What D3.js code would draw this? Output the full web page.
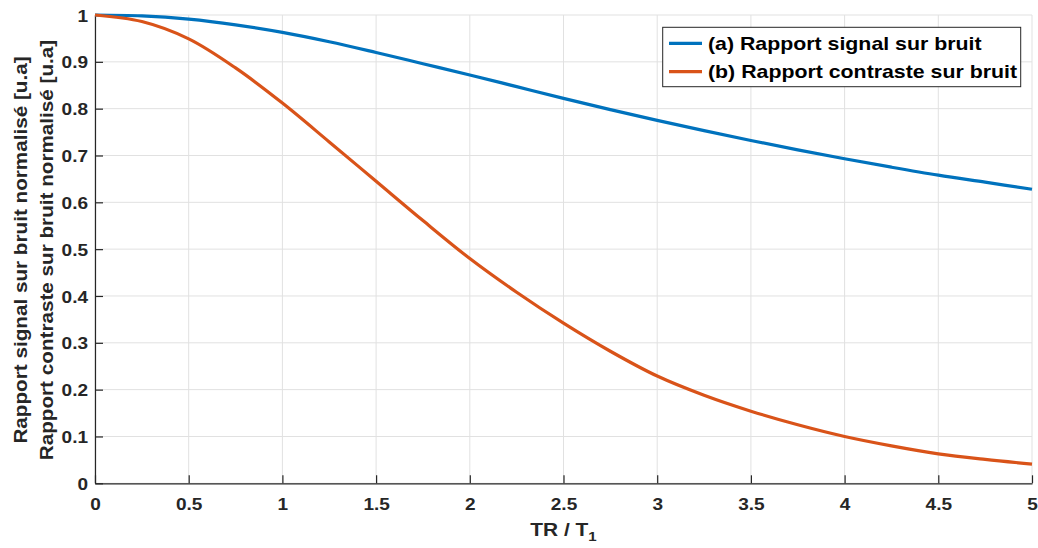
<!DOCTYPE html>
<html><head><meta charset="utf-8">
<script src="https://cdn.jsdelivr.net/npm/d3@7"></script>
<style>
html,body{margin:0;padding:0;background:#fff;}
text{font-family:"Liberation Sans",Arial,Helvetica,sans-serif;font-weight:bold;}
</style></head>
<body><svg id="c" width="1038" height="548"></svg>
<script>
const xValues = [0,0.25,0.5,0.75,1,1.25,1.5,1.75,2,2.25,2.5,2.75,3,3.25,3.5,3.75,4,4.25,4.5,4.75,5];
const snrValues = [1,0.998,0.991,0.979,0.963,0.943,0.920,0.896,0.872,0.847,0.822,0.798,0.775,0.753,0.732,0.712,0.693,0.675,0.658,0.643,0.628];
const cnrValues = [1,0.986,0.949,0.887,0.812,0.729,0.645,0.561,0.480,0.408,0.342,0.282,0.229,0.188,0.154,0.125,0.100,0.080,0.063,0.051,0.041];
const xTicks = [0,0.5,1,1.5,2,2.5,3,3.5,4,4.5,5];
const yTicks = [0,0.1,0.2,0.3,0.4,0.5,0.6,0.7,0.8,0.9,1];
const seriesNames = ["(a) Rapport signal sur bruit","(b) Rapport contraste sur bruit"];
const seriesColors = ["#0072BD","#D95319"];
const yTitleLines = ["Rapport signal sur bruit normalisé [u.a]","Rapport contraste sur bruit normalisé [u.a]"];

const svg = d3.select("#c");
const L=95, R=1032, T=15, B=483.3;
const x = d3.scaleLinear().domain([0,5]).range([L,R]);
const y = d3.scaleLinear().domain([0,1]).range([B,T]);
const axisCol="#262626";
const SX = 1.12; // horizontal glyph stretch of the reference

// grid
const g = svg.append("g");
g.selectAll("line.gx").data(xTicks).enter().append("line")
 .attr("x1",d=>x(d)).attr("x2",d=>x(d)).attr("y1",T).attr("y2",B)
 .attr("stroke","#e1e1e1").attr("stroke-width",1);
g.selectAll("line.gy").data(yTicks).enter().append("line")
 .attr("x1",L).attr("x2",R).attr("y1",d=>y(d)).attr("y2",d=>y(d))
 .attr("stroke","#e1e1e1").attr("stroke-width",1);

// axes
const xAxis = d3.axisBottom(x).tickValues(xTicks).tickSizeInner(-8).tickSizeOuter(0)
  .tickFormat(d=>String(d));
const yAxis = d3.axisLeft(y).tickValues(yTicks).tickSizeInner(-8).tickSizeOuter(0)
  .tickFormat(d=>String(d));
const gx = svg.append("g").attr("transform",`translate(0,${B})`).call(xAxis);
const gy = svg.append("g").attr("transform",`translate(${L},0)`).call(yAxis);
[gx,gy].forEach(a=>{
  a.select(".domain").attr("stroke",axisCol).attr("stroke-width",1.2);
  a.selectAll(".tick line").attr("stroke",axisCol).attr("stroke-width",1.2);
  a.selectAll(".tick text").attr("fill",axisCol).attr("font-size",17)
   .attr("font-family","Liberation Sans, Arial, sans-serif").attr("font-weight","bold");
});
gx.selectAll(".tick text").attr("dy",null).attr("y",27).attr("x",0)
  .attr("transform",`scale(${SX},1)`);
gy.selectAll(".tick text").attr("x",-7/SX).attr("dy","0.36em")
  .attr("transform",`scale(${SX},1)`);

// lines
const line = d3.line().x((d,i)=>x(xValues[i])).y(d=>y(d)).curve(d3.curveCatmullRom.alpha(0.5));
[snrValues,cnrValues].forEach((s,i)=>{
  svg.append("path").attr("d",line(s)).attr("fill","none")
    .attr("stroke",seriesColors[i]).attr("stroke-width",3.2).attr("stroke-linejoin","round");
});

// x title
const xt = svg.append("text").attr("transform",`translate(${(L+R)/2},536) scale(1.16,1)`)
  .attr("text-anchor","middle").attr("font-size",18).attr("fill",axisCol);
xt.append("tspan").text("TR / T");
xt.append("tspan").attr("font-size",13).attr("dy",5).text("1");

// y title
yTitleLines.forEach((t,i)=>{
  svg.append("text").attr("transform",`translate(${26.5+i*26},250) rotate(-90) scale(1.15,1)`)
   .attr("text-anchor","middle").attr("font-size",18).attr("fill",axisCol).text(t);
});

// legend
const lg = svg.append("g");
lg.append("rect").attr("x",662.7).attr("y",27.3).attr("width",358).attr("height",59.4)
  .attr("fill","#fff").attr("stroke","#262626").attr("stroke-width",1);
seriesNames.forEach((n,i)=>{
  const yy = 43.3 + i*28.4;
  lg.append("line").attr("x1",669).attr("x2",702).attr("y1",yy).attr("y2",yy)
    .attr("stroke",seriesColors[i]).attr("stroke-width",3.2);
  lg.append("text").attr("transform",`translate(708,${yy}) scale(1.146,1)`)
    .attr("dy","0.36em").attr("font-size",18.6).attr("fill","#000").text(n);
});
</script></body></html>
